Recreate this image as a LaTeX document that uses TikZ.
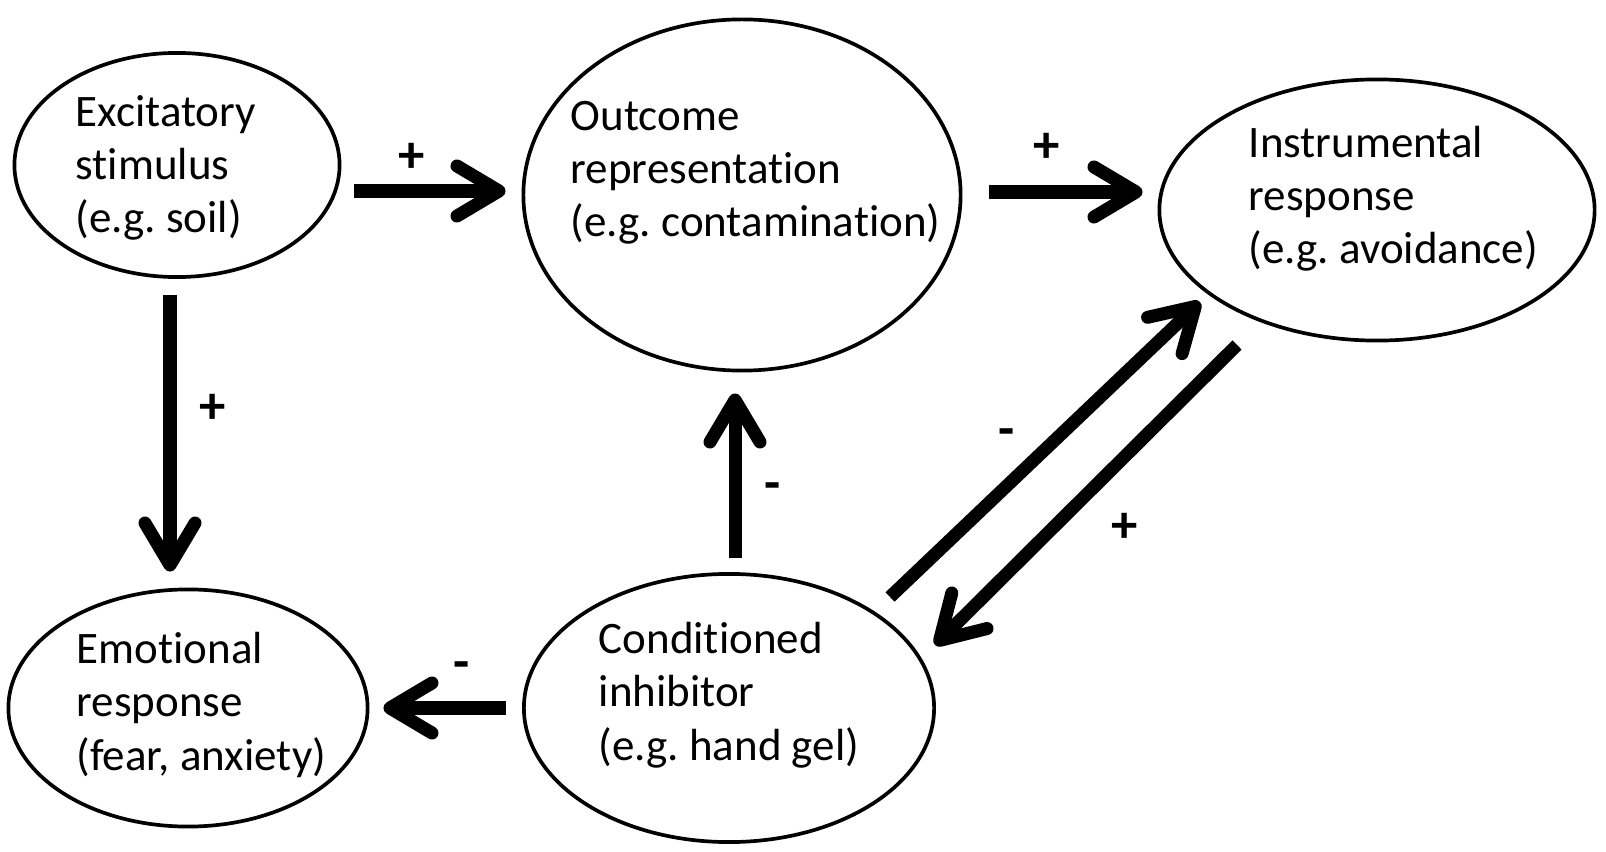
\documentclass[tikz,border=0pt]{standalone}
\usepackage{fontspec}
\setmainfont{Carlito}[Ligatures=NoCommon]
\frenchspacing
\usetikzlibrary{shapes.geometric, arrows.meta}

\begin{document}
\begin{tikzpicture}[x=0.01cm, y=-0.01cm,
  oval/.style={draw, ellipse, line width=1.05pt, inner sep=0pt},
  txt/.style={anchor=base west, align=left, inner sep=0pt, font=\fontsize{12.8}{15.1}\selectfont},
  sign/.style={inner sep=0pt, font=\fontsize{15}{16}\selectfont\bfseries},
  link/.style={line width=3.7pt, -{Straight Barb[length=4.2mm, width=5mm, line width=3.7pt, round]}}]

  \useasboundingbox (0,0) rectangle (1606,852);

  % Ovals
  \node[oval, minimum width=3.25cm, minimum height=2.24cm] (stimulus) at (177,165) {};
  \node[oval, minimum width=3.59cm, minimum height=2.37cm] (emotion) at (188,708) {};
  \node[oval, minimum width=4.37cm, minimum height=3.51cm] (outcome) at (742,195) {};
  \node[oval, minimum width=4.35cm, minimum height=2.61cm] (response) at (1377,210) {};
  \node[oval, minimum width=4.10cm, minimum height=2.68cm] (inhibitor) at (729,708) {};

  % Texts
  \node[txt] (stimulus-t) at (75,233) {Excitatory\\stimulus\\(e.g. soil)};
  \node[txt] (emotion-t) at (76,770) {Emotional\\response\\(fear, anxiety)};
  \node[txt] (outcome-t) at (570,237) {Outcome\\representation\\(e.g. contamination)};
  \node[txt] (response-t) at (1248,264) {Instrumental\\response\\(e.g. avoidance)};
  \node[txt] (inhibitor-t) at (598,760) {Conditioned\\inhibitor\\(e.g. hand gel)};

  % Arrows
  \draw[link] ([shift={(13,26)}]stimulus.east) -- ([shift={(-16,-4)}]outcome.west);
  \draw[link] ([shift={(27,-3)}]outcome.east) -- ([shift={(-15,-18)}]response.west);
  \draw[link] ([shift={(-7,16)}]stimulus.south) -- ([shift={(-18,-16)}]emotion.north);
  \draw[link] ([shift={(6,-14)}]inhibitor.north) -- ([shift={(-7,21)}]outcome.south);
  \draw[link] ([shift={(-16,0)}]inhibitor.west) -- ([shift={(14,0)}]emotion.east);
  \draw[link] ([shift={(161,-111)}]inhibitor.center) -- ([shift={(-177,92)}]response.center);
  \draw[link] ([shift={(-140,135)}]response.center) -- ([shift={(206,-63)}]inhibitor.center);

  % Signs
  \node[sign] (plus-a) at (412,158) {+};
  \node[sign] (plus-b) at (1047,148) {+};
  \node[sign] (plus-c) at (213,409) {+};
  \node[sign] (plus-d) at (1125,528) {+};
  \node[sign] (minus-a) at (773,492) {-};
  \node[sign] (minus-b) at (462,671) {-};
  \node[sign] (minus-c) at (1007,438) {-};

\end{tikzpicture}
\end{document}
